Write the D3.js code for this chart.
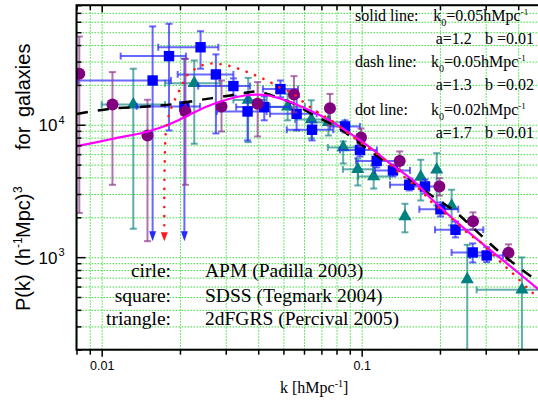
<!DOCTYPE html>
<html>
<head>
<meta charset="utf-8">
<script src="https://cdn.jsdelivr.net/npm/d3@7/dist/d3.min.js"></script>
<style>
body { margin: 0; background: #fff; }
svg { display: block; }
</style>
</head>
<body>
<svg width="538" height="403"></svg>
<script>
// APM circles
var circleK = [0.0082, 0.0110, 0.0150, 0.0210, 0.0289, 0.0398, 0.0549, 0.0755, 0.0994, 0.140, 0.199, 0.268, 0.367];
var circleP = [24300, 14200, 8300, 12600, 13750, 14400, 16900, 13350, 8020, 5330, 3420, 1870, 1080];
var circleHi = [46400, 25000, 15450, 31500, 21600, 21000, 23300, 17100, 9380, 6290, 3950, 2180, 1250];
var circleLo = [2160, 3520, 1320, 3520, 8900, 8160, 12400, 9880, 6860, 4520, 2920, 1620, 944];

// SDSS squares
var squareK = [0.0157, 0.01815, 0.0240, 0.0208, 0.0275, 0.0321, 0.0364, 0.0422, 0.0487, 0.0562, 0.0644, 0.0863, 0.0985, 0.1142, 0.1319, 0.1524, 0.1752, 0.2009, 0.2295, 0.2673, 0.3026];
var squareP = [21600, 33000, 38500, 13750, 24000, 19600, 12600, 13600, 18600, 12100, 9170, 9710, 6450, 5330, 4520, 3520, 3420, 2300, 1610, 1085, 1030];
var squareHi = [55300, 57900, 50900, 31500, 34000, 22400, 17600, 16400, 21600, 16200, 10460, 10780, 7230, 5970, 5010, 3930, 3860, 2590, 1860, 1270, 1190];
var squareLo = [null, 9060, 26500, null, 8600, 16600, 7610, 10800, 16100, 9060, 7610, 8740, 5760, 4760, 4070, 3190, 3030, 2030, 1410, 912, 917];
var squareKLo = [0.00811, 0.01183, 0.0165, 0.01363, 0.0196, 0.0235, 0.0277, 0.0329, 0.0417, 0.0444, 0.0515, 0.0755, 0.0825, 0.0951, 0.1125, 0.1285, 0.1467, 0.1666, 0.1914, 0.2218, 0.2609];
var squareKHi = [0.01847, 0.02109, 0.0281, 0.0239, 0.0321, 0.0372, 0.0431, 0.0530, 0.0569, 0.0671, 0.0778, 0.0985, 0.1145, 0.1363, 0.1534, 0.1799, 0.2037, 0.2352, 0.2936, 0.3115, 0.3496];

// 2dFGRS triangles
var triK = [0.01323, 0.0227, 0.0366, 0.0519, 0.0640, 0.0745, 0.0849, 0.0966, 0.1112, 0.1467, 0.1687, 0.1944, 0.2218, 0.2547, 0.4135];
var triP = [14200, 20600, 15400, 13700, 10960, 10460, 6740, 4610, 4070, 2030, 4040, 4570, 2440, 679, 567];
var triHi = [26500, 30600, 22600, 17200, 15300, 12800, 7480, 5560, 4930, 2530, 5440, 6100, 3230, 1240, 995];
var triLo = [1640, 7190, 7390, 10800, 7880, 8300, 5100, 3480, 3300, 1540, 2680, 2460, 1740, null, null];
var triKLo = [0.0100, 0.01752, 0.0321, 0.0444, 0.0554, 0.0644, 0.0741, 0.0847, 0.0968, null, null, null, null, null, 0.2769];
var triKHi = [0.01752, 0.0285, 0.0431, 0.0605, 0.0755, 0.0863, 0.0968, 0.1105, 0.1285, null, null, null, null, null, 0.6];

// where the error bars consistent with zero end in arrows
var arrowTipP = 1320;

// model curves
var solidK = [0.00804, 0.01105, 0.01507, 0.01831, 0.02128, 0.02541, 0.03034, 0.03557, 0.03955, 0.04439, 0.0530, 0.06325, 0.0755, 0.0902, 0.1076, 0.1285, 0.1574, 0.1831, 0.2128, 0.2609, 0.3404, 0.382, 0.5];
var solidP = [6890, 7840, 8900, 10140, 11660, 13750, 15530, 16640, 16900, 16560, 14870, 12820, 10780, 8600, 6740, 5100, 3800, 2825, 2140, 1510, 986, 822, 532];

var dashK = [0.00804, 0.01076, 0.01494, 0.01914, 0.02388, 0.03034, 0.03557, 0.0399, 0.0456, 0.0544, 0.0673, 0.0804, 0.0985, 0.1208, 0.1367, 0.1675, 0.2284, 0.2777, 0.3404, 0.417, 0.5];
var dashP = [12070, 13210, 13750, 14360, 15400, 16500, 17380, 17840, 16500, 14490, 11450, 9620, 7230, 5420, 4680, 3360, 2210, 1560, 1085, 794, 611];

var dotK = [0.01741, 0.01741, 0.01744, 0.01752, 0.01767, 0.01831, 0.01914, 0.02031, 0.02128, 0.02319, 0.0253, 0.02752, 0.0298, 0.03228, 0.03504, 0.03802, 0.04125, 0.04439, 0.04851, 0.05381, 0.0605, 0.06913, 0.0748, 0.08757, 0.0985, 0.1208, 0.1404, 0.1701, 0.1831, 0.2251, 0.2594, 0.2809, 0.3304, 0.3589, 0.3887, 0.4439, 0.5];
var dotP = [1740, 2680, 4140, 6400, 9060, 12600, 15530, 19810, 23570, 26850, 28790, 28890, 28290, 27230, 25710, 24100, 22570, 20980, 19030, 17450, 14560, 12110, 11100, 8790, 7390, 5560, 4290, 3150, 2680, 1920, 1480, 1340, 983, 840, 727, 560, 463];

// tick labels
var xTickValues = [0.01, 0.1];
var xTickLabels = ['0.01', '0.1'];
var yTickValues = [1000, 10000];
var yTickExponents = ['3', '4'];

// text
var curveNames = ['solid line:', 'dash line:', 'dot line:'];
var curveK0 = ['0.05', '0.05', '0.02'];
var curveA = ['1.2', '1.3', '1.7'];
var curveB = ['0.01', '0.02', '0.01'];
var legendShapes = ['cirle:', 'square:', 'triangle:'];
var legendSources = ['APM (Padilla 2003)', 'SDSS (Tegmark 2004)', '2dFGRS (Percival 2005)'];

var svg = d3.select('svg');
var plotLeft = 76.5, plotRight = 543.4, plotTop = 5.2, plotBottom = 349.7;
var serif = '"Liberation Serif", "Times New Roman", serif';
var sans = '"Liberation Sans", Arial, sans-serif';

var x = d3.scaleLog().domain([0.008, 0.5]).range([plotLeft, plotRight]);
var y = d3.scaleLog().domain([200, 80000]).range([plotBottom, plotTop]);

function isMajor(d) {
    var l = Math.log10(d);
    return Math.abs(l - Math.round(l)) < 1e-6;
}
var xAll = x.ticks();
var yAll = y.ticks();
var xMinor = xAll.filter(function(d) { return !isMajor(d); });
var yMinor = yAll.filter(function(d) { return !isMajor(d); });

// grid
svg.append('g')
    .attr('transform', 'translate(0,' + plotBottom + ')')
    .call(d3.axisBottom(x).tickValues(xAll).tickSize(-(plotBottom - plotTop)).tickFormat(''))
    .call(function(g) { g.select('.domain').remove(); })
    .selectAll('line')
    .attr('stroke', '#3ee03e')
    .attr('stroke-dasharray', '1.5,1.5');

svg.append('g')
    .attr('transform', 'translate(' + plotLeft + ',0)')
    .call(d3.axisLeft(y).tickValues(yAll).tickSize(-(plotRight - plotLeft)).tickFormat(''))
    .call(function(g) { g.select('.domain').remove(); })
    .selectAll('line')
    .attr('stroke', '#3ee03e')
    .attr('stroke-dasharray', '1.5,1.5');

svg.append('clipPath').attr('id', 'plot-clip')
    .append('rect')
    .attr('x', plotLeft).attr('y', plotTop)
    .attr('width', plotRight - plotLeft).attr('height', plotBottom - plotTop);

var data = svg.append('g').attr('clip-path', 'url(#plot-clip)');

function drawErrors(g, ks, ps, lo, hi, klo, khi, color, arrows) {
    var cap = 3.5;
    ks.forEach(function(k, i) {
        var cx = x(k), cy = y(ps[i]);
        var yHi = y(hi[i]);
        var yLo = lo[i] == null ? (arrows ? y(arrowTipP) - 9 : plotBottom + 10) : y(lo[i]);
        g.append('line').attr('x1', cx).attr('x2', cx).attr('y1', yHi).attr('y2', yLo)
            .attr('stroke', color).attr('stroke-width', 2).attr('opacity', 0.7);
        g.append('line').attr('x1', cx - cap).attr('x2', cx + cap).attr('y1', yHi).attr('y2', yHi)
            .attr('stroke', color).attr('stroke-width', 2).attr('opacity', 0.7);
        if (lo[i] != null) {
            g.append('line').attr('x1', cx - cap).attr('x2', cx + cap).attr('y1', yLo).attr('y2', yLo)
                .attr('stroke', color).attr('stroke-width', 2).attr('opacity', 0.7);
        } else if (arrows) {
            var tip = y(arrowTipP);
            g.append('path')
                .attr('d', 'M' + (cx - 3.5) + ',' + (tip - 10) + 'L' + (cx + 3.5) + ',' + (tip - 10) + 'L' + cx + ',' + tip + 'Z')
                .attr('fill', color);
        }
        if (klo && klo[i] != null) {
            var x1 = x(klo[i]), x2 = x(khi[i]);
            g.append('line').attr('x1', x1).attr('x2', x2).attr('y1', cy).attr('y2', cy)
                .attr('stroke', color).attr('stroke-width', 2).attr('opacity', 0.7);
            [x1, x2].forEach(function(xx) {
                g.append('line').attr('x1', xx).attr('x2', xx).attr('y1', cy - cap).attr('y2', cy + cap)
                    .attr('stroke', color).attr('stroke-width', 2).attr('opacity', 0.7);
            });
        }
    });
}

// triangles
var gTri = data.append('g');
drawErrors(gTri, triK, triP, triLo, triHi, triKLo, triKHi, '#1f8a8a', false);
gTri.selectAll('path.tri').data(triK).enter().append('path')
    .attr('class', 'tri')
    .attr('transform', function(d, i) { return 'translate(' + x(d) + ',' + y(triP[i]) + ')'; })
    .attr('d', d3.symbol(d3.symbolTriangle, 75))
    .attr('fill', '#008080');

// squares
var gSq = data.append('g');
drawErrors(gSq, squareK, squareP, squareLo, squareHi, squareKLo, squareKHi, '#2a2aff', true);
gSq.selectAll('rect.sq').data(squareK).enter().append('rect')
    .attr('class', 'sq')
    .attr('x', function(d) { return x(d) - 5.2; })
    .attr('y', function(d, i) { return y(squareP[i]) - 5.2; })
    .attr('width', 10.4).attr('height', 10.4)
    .attr('fill', '#0000ff');

// circles
var gCi = data.append('g');
drawErrors(gCi, circleK, circleP, circleLo, circleHi, null, null, '#8f3a8f', false);
gCi.selectAll('circle').data(circleK).enter().append('circle')
    .attr('cx', function(d) { return x(d); })
    .attr('cy', function(d, i) { return y(circleP[i]); })
    .attr('r', 6)
    .attr('fill', '#800080');

// curves
function curvePath(ks, ps) {
    return d3.line()
        .x(function(d) { return x(d); })
        .y(function(d, i) { return y(ps[i]); })
        .curve(d3.curveCatmullRom.alpha(0.5))(ks);
}

data.append('path').attr('d', curvePath(dashK, dashP))
    .attr('fill', 'none').attr('stroke', '#000').attr('stroke-width', 2.5)
    .attr('stroke-dasharray', '11,10');

data.append('path').attr('d', curvePath(solidK, solidP))
    .attr('fill', 'none').attr('stroke', '#ff00ff').attr('stroke-width', 2.2);

data.append('path').attr('d', curvePath(dotK, dotP))
    .attr('fill', 'none').attr('stroke', '#ff1a1a').attr('stroke-width', 2.6)
    .attr('stroke-linecap', 'round').attr('stroke-dasharray', '0.1,9');

var dotTipX = x(dotK[0]), dotTip = y(arrowTipP);
data.append('path')
    .attr('d', 'M' + (dotTipX - 3.5) + ',' + (dotTip - 9) + 'L' + (dotTipX + 3.5) + ',' + (dotTip - 9) + 'L' + dotTipX + ',' + dotTip + 'Z')
    .attr('fill', '#ff1a1a');

// axes: bottom (outward), top and left (inward)
function styleAxis(g) {
    g.select('.domain').remove();
    g.selectAll('line').attr('stroke', '#000').attr('stroke-width', 1.5);
}
svg.append('g').attr('transform', 'translate(0,' + plotBottom + ')')
    .call(d3.axisBottom(x).tickValues(xMinor).tickSize(5).tickFormat(''))
    .call(styleAxis);
svg.append('g').attr('transform', 'translate(0,' + plotBottom + ')')
    .call(d3.axisBottom(x).tickValues(xTickValues).tickSize(7).tickPadding(4)
        .tickFormat(function(d, i) { return xTickLabels[i]; }))
    .call(styleAxis)
    .selectAll('text')
    .attr('font-family', sans).attr('font-size', 12.5).attr('fill', '#000');

svg.append('g').attr('transform', 'translate(0,' + plotTop + ')')
    .call(d3.axisTop(x).tickValues(xMinor).tickSize(-5).tickFormat(''))
    .call(styleAxis);
svg.append('g').attr('transform', 'translate(0,' + plotTop + ')')
    .call(d3.axisTop(x).tickValues(xTickValues).tickSize(-7).tickFormat(''))
    .call(styleAxis);

svg.append('g').attr('transform', 'translate(' + plotLeft + ',0)')
    .call(d3.axisLeft(y).tickValues(yMinor).tickSize(-5).tickFormat(''))
    .call(styleAxis);
svg.append('g').attr('transform', 'translate(' + plotLeft + ',0)')
    .call(d3.axisLeft(y).tickValues(yTickValues).tickSize(-9).tickFormat(''))
    .call(styleAxis);

// frame
svg.append('rect')
    .attr('x', plotLeft).attr('y', plotTop)
    .attr('width', plotRight - plotLeft).attr('height', plotBottom - plotTop)
    .attr('fill', 'none').attr('stroke', '#000').attr('stroke-width', 2);

// y tick labels 10^n
yTickValues.forEach(function(v, i) {
    svg.append('text')
        .attr('font-family', sans).attr('font-size', 17).attr('fill', '#000')
        .attr('x', 57.5).attr('y', y(v) + 6.5).attr('text-anchor', 'end')
        .text('10');
    svg.append('text')
        .attr('font-family', sans).attr('font-size', 11).attr('fill', '#000')
        .attr('x', 58.5).attr('y', y(v) - 1).text(yTickExponents[i]);
});

// x axis title
var xt = svg.append('text')
    .attr('x', 280).attr('y', 393)
    .attr('font-family', serif).attr('font-size', 16).attr('fill', '#000');
xt.append('tspan').text('k [hMpc');
xt.append('tspan').attr('font-size', 10).attr('dy', -6).text('-1');
xt.append('tspan').attr('dy', 6).text(']');

// y axis title (rotated, pieces placed along the axis)
var yt = svg.append('text')
    .attr('transform', 'translate(30,0) rotate(-90)')
    .attr('font-family', sans).attr('font-size', 20).attr('fill', '#000');
yt.append('tspan').attr('x', -311).attr('y', 0).text('P(k)');
yt.append('tspan').attr('x', -266).attr('y', 0).text('(h');
yt.append('tspan').attr('x', -248).attr('y', -8).attr('font-size', 12).text('-1');
yt.append('tspan').attr('x', -238).attr('y', 0).text('Mpc)');
yt.append('tspan').attr('x', -193).attr('y', -8).attr('font-size', 12).text('3');
yt.append('tspan').attr('x', -150).attr('y', 0).text('for');
yt.append('tspan').attr('x', -117).attr('y', 0).text('galaxies');

// curve parameter notes
var noteY = [21, 67, 115];
var noteKX = [433.3, 431, 431];
curveNames.forEach(function(name, i) {
    svg.append('text')
        .attr('x', 355).attr('y', noteY[i])
        .attr('font-family', serif).attr('font-size', 16).attr('fill', '#000')
        .text(name);
    var t = svg.append('text')
        .attr('x', noteKX[i]).attr('y', noteY[i])
        .attr('font-family', serif).attr('font-size', 16).attr('fill', '#000');
    t.append('tspan').text('k');
    t.append('tspan').attr('font-size', 10).attr('dy', 5).text('0');
    t.append('tspan').attr('dy', -5).text('=' + curveK0[i] + 'hMpc');
    t.append('tspan').attr('font-size', 9).attr('dy', -6).text('-1');
    svg.append('text')
        .attr('x', 435.7).attr('y', noteY[i] + 22.5)
        .attr('font-family', serif).attr('font-size', 16).attr('fill', '#000')
        .text('a=' + curveA[i]);
    svg.append('text')
        .attr('x', 485).attr('y', noteY[i] + 22.5)
        .attr('font-family', serif).attr('font-size', 16).attr('fill', '#000')
        .text('b =' + curveB[i]);
});

// symbol legend
var legendY = [276.5, 301.5, 324.5];
legendShapes.forEach(function(s, i) {
    svg.append('text')
        .attr('x', 171).attr('y', legendY[i]).attr('text-anchor', 'end')
        .attr('font-family', serif).attr('font-size', 19.5).attr('fill', '#000')
        .text(s);
    svg.append('text')
        .attr('x', 205).attr('y', legendY[i])
        .attr('font-family', serif).attr('font-size', 19.5).attr('fill', '#000')
        .text(legendSources[i]);
});
</script>
</body>
</html>
